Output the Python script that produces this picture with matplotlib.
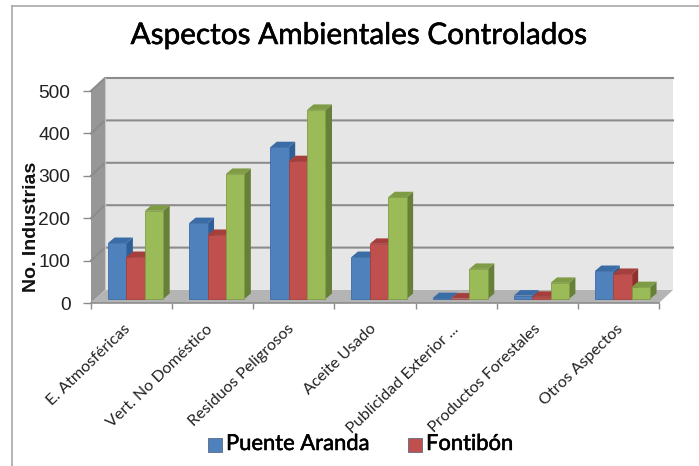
import matplotlib
matplotlib.use("Agg")
import matplotlib.pyplot as plt
import matplotlib.patheffects as pe
from matplotlib.patches import Polygon, Rectangle

categories = [
    "E. Atmosféricas",
    "Vert. No Doméstico",
    "Residuos Peligrosos",
    "Aceite Usado",
    "Publicidad Exterior ...",
    "Productos Forestales",
    "Otros Aspectos",
]
puente_aranda = [132, 179, 358, 99, 2, 8, 66]
fontibon = [99, 151, 325, 130, 1, 5, 59]
tercera_serie = [208, 295, 446, 240, 71, 38, 28]
y_ticks = [0, 100, 200, 300, 400, 500]

W, H = 699, 466
# axes box = front edge of the floor and the y axis, in pixels
LEFT, RIGHT, BOTTOM, TOP = 91, 659, 303, 91
PX_X = len(categories) / (RIGHT - LEFT)
PX_Y = 500 / (BOTTOM - TOP)

# depth of the walls and of the bars, in data units
WALL_DX, WALL_DY = 14 * PX_X, 13 * PX_Y
BAR_DX, BAR_DY = 6.5 * PX_X, 5.5 * PX_Y
BAR_W = 18.4 * PX_X
BAR_START = 17 * PX_X
BASE_Y = 4 * PX_Y

SERIES_COLORS = [
    ("#4F81BD", "#2F5F96", "#3A6CA6"),
    ("#C0504D", "#8E3230", "#A53F3C"),
    ("#9BBB59", "#66803A", "#7F9C45"),
]

# regular Lato with a thin outline looks like the heavier original text
HEAVY = [pe.withStroke(linewidth=0.4, foreground="black")]

fig = plt.figure(figsize=(W / 100, H / 100), dpi=100, facecolor="white")
ax = fig.add_axes(
    [LEFT / W, 1 - BOTTOM / H, (RIGHT - LEFT) / W, (BOTTOM - TOP) / H]
)
ax.set_xlim(0, len(categories))
ax.set_ylim(0, 500)
ax.patch.set_visible(False)
for spine in ax.spines.values():
    spine.set_visible(False)


def poly(points, color, z=1, edge="none", lw=0):
    ax.add_patch(
        Polygon(points, closed=True, facecolor=color, edgecolor=edge,
                linewidth=lw, zorder=z, clip_on=False)
    )


n = len(categories)
# back wall, side wall, floor
poly([(WALL_DX, WALL_DY), (n + WALL_DX, WALL_DY), (n + WALL_DX, 500 + WALL_DY),
      (WALL_DX, 500 + WALL_DY)], "#E6E6E6")
poly([(0, 0), (WALL_DX, WALL_DY), (WALL_DX, 500 + WALL_DY), (0, 500)], "#979797")
poly([(0, 0), (n, 0), (n + WALL_DX, WALL_DY), (WALL_DX, WALL_DY)], "#B4B4B4")

# gridlines run along the side wall and the back wall
for v in y_ticks[1:]:
    ax.plot([0, WALL_DX, n + WALL_DX], [v, v + WALL_DY, v + WALL_DY],
            color="#8C8C8C", lw=1.5, zorder=2, clip_on=False)
ax.plot([0, n], [0, 0], color="#8C8C8C", lw=1.2, zorder=2, clip_on=False)
ax.plot([WALL_DX, WALL_DX], [WALL_DY, 500 + WALL_DY], color="#C8C8C8", lw=0.8,
        zorder=2, clip_on=False)

# bars
for i in range(n):
    for s, values in enumerate([puente_aranda, fontibon, tercera_serie]):
        front, side, top = SERIES_COLORS[s]
        x0 = i + BAR_START + s * BAR_W
        x1 = x0 + BAR_W
        y1 = BASE_Y + values[i]
        z = 5 + s * 0.1
        poly([(x1, BASE_Y), (x1 + BAR_DX, BASE_Y + BAR_DY),
              (x1 + BAR_DX, y1 + BAR_DY), (x1, y1)], side, z)
        poly([(x0, y1), (x1, y1), (x1 + BAR_DX, y1 + BAR_DY),
              (x0 + BAR_DX, y1 + BAR_DY)], top, z)
        poly([(x0, BASE_Y), (x1, BASE_Y), (x1, y1), (x0, y1)], front, z,
             edge=top, lw=0.6)

# axes ticks and labels
ax.set_xticks(range(n + 1))
ax.set_xticklabels([])
ax.set_yticks(y_ticks)
ax.set_yticklabels([str(v) for v in y_ticks], family="Liberation Sans",
                   fontsize=13.8, color="#222222")
ax.tick_params(axis="x", length=4, width=1, color="#8C8C8C", direction="out")
ax.tick_params(axis="y", length=5.8, width=1, color="#8C8C8C", pad=9)

# the labels sit slightly wider apart than the ticks
for i, label in enumerate(categories):
    ax.annotate(label, xy=(i * 1.012 + 0.395, 0), xycoords="data", xytext=(0, -19),
                textcoords="offset pixels", rotation=44, ha="right", va="top",
                rotation_mode="anchor", family="Lato", fontsize=11.6,
                color="#222222", annotation_clip=False)

fig.text(359 / W, 1 - 35 / H, "Aspectos Ambientales Controlados",
         family="Lato", fontsize=21.4, color="black", ha="center", va="center",
         path_effects=HEAVY)
fig.text(31 / W, 1 - 227 / H, "No. Industrias", family="Liberation Sans",
         rotation=90, fontsize=14, weight="bold", color="#111111",
         ha="center", va="center")

# legend, the third entry is not visible in the original
for px, name, color in [(208, "Puente Aranda", "#4F81BD"), (408, "Fontibón", "#C0504D")]:
    fig.add_artist(
        Rectangle((px / W, 1 - 452 / H), 14 / W, 14 / H, facecolor=color,
                  edgecolor="#5A6B80", linewidth=0.6, transform=fig.transFigure)
    )
    fig.text((px + 18) / W, 1 - 444 / H, name, family="Lato", fontsize=15.8,
             color="black", ha="left", va="center", path_effects=HEAVY)

# chart frame, only left and top edges show
y_top = 1 - 5.5 / H
fig.add_artist(plt.Line2D([11.5 / W, 11.5 / W], [0, y_top], color="#A8A8A8", lw=1.2))
fig.add_artist(plt.Line2D([11.5 / W, 1], [y_top, y_top], color="#A8A8A8", lw=1.2))

fig.savefig("out.png", dpi=100)
